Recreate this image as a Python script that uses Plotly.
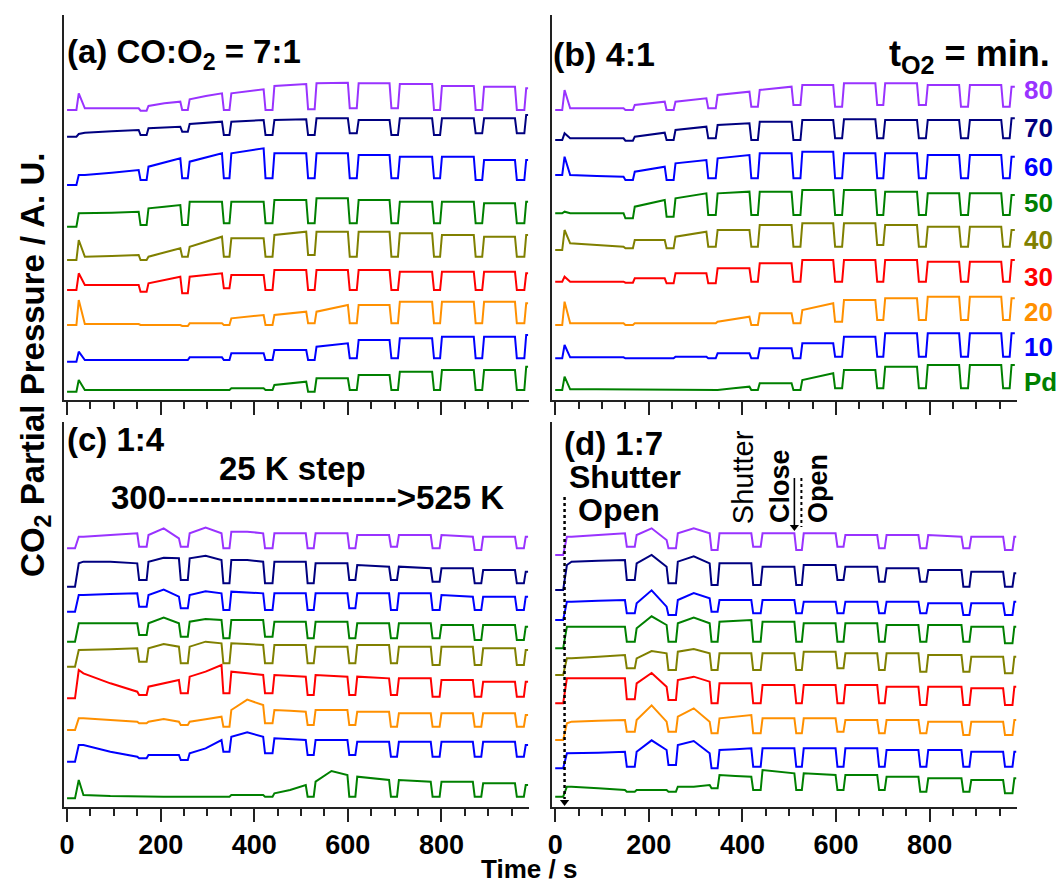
import plotly.graph_objects as go

W, H = 1060, 886

LABELS = ["80", "70", "60", "50", "40", "30", "20", "10", "Pd"]
COLORS = ["#9933ff", "#000080", "#0000ff", "#008000", "#808000",
          "#ff0000", "#ff9000", "#0000ff", "#008000"]
TICK_VALUES = [0, 200, 400, 600, 800]
TICK_TEXT = ["0", "200", "400", "600", "800"]

# ---------------- shutter schedules (s) ----------------
a_close = [153, 242, 331, 420, 511, 600, 689, 780, 869, 957]
a_open = [171, 259, 348, 440, 530, 620, 708, 798, 888, 978]
a_timing = [20, 25, 38, 985]          # shutter open rise, spike peak, settle, end

b_close = [146, 234, 323, 415, 505, 594, 684, 773, 863, 953]
b_open = [167, 254, 344, 434, 525, 614, 702, 793, 883, 972]
b_timing = [15, 20, 32, 982]

c_close = [150, 239, 330, 419, 510, 599, 688, 777, 867, 957]
c_open = [171, 259, 348, 440, 528, 617, 706, 797, 886, 977]
c_timing = [17, 25, 35, 985]

d_close = [149, 238, 330, 419, 511, 599, 688, 776, 868, 957]
d_open = [171, 259, 348, 440, 528, 617, 705, 794, 886, 978]
d_timing = [17, 25, 35, 985]
d_shutter_first_open = 20

# ---------------- panel (a) CO:O2 = 7:1 ----------------
# pre = [level before shutter opens, spike peak]; open = (start, middle, end) of each open period; shut = closed levels
a80_pre = [870, 920]
a80_open = [(875, 875, 875), (882, 890, 895), (902, 912, 920), (920, 926, 932), (942, 945, 948), (950, 951, 952),
            (950, 950, 950), (948, 948, 948), (942, 942, 942), (940, 940, 940), (935, 935, 935)]
a80_shut = [868, 870, 870, 870, 872, 875, 875, 870, 870, 870]

a70_pre = [790, 798]
a70_open = [(802, 806, 810), (815, 818, 820), (828, 832, 835), (835, 838, 840), (840, 841, 842), (845, 845, 845),
            (840, 840, 840), (845, 845, 845), (845, 845, 845), (845, 845, 845), (855, 855, 855)]
a70_shut = [795, 805, 795, 795, 795, 800, 795, 795, 800, 800]

a60_pre = [645, 675]
a60_open = [(675, 682, 690), (700, 712, 725), (715, 728, 740), (740, 748, 755), (740, 740, 740), (740, 740, 740),
            (735, 735, 735), (730, 730, 730), (730, 730, 730), (720, 720, 720), (720, 720, 720)]
a60_shut = [660, 665, 665, 665, 665, 665, 665, 665, 660, 660]

a50_pre = [520, 560]
a50_open = [(560, 562, 565), (575, 580, 585), (595, 595, 595), (595, 595, 595), (600, 600, 600), (605, 605, 605),
            (600, 600, 600), (595, 595, 595), (595, 595, 595), (590, 590, 590), (595, 595, 595)]
a50_shut = [525, 525, 530, 530, 530, 530, 530, 530, 530, 530]

a40_pre = [420, 480]
a40_open = [(430, 432, 435), (430, 442, 455), (460, 475, 490), (485, 485, 485), (495, 500, 505), (505, 505, 505),
            (505, 505, 505), (500, 500, 500), (495, 495, 495), (490, 490, 490), (495, 495, 495)]
a40_shut = [420, 430, 430, 430, 435, 430, 430, 430, 430, 430]

a30_pre = [330, 380]
a30_open = [(345, 345, 345), (350, 360, 370), (370, 375, 380), (375, 375, 375), (390, 390, 390), (390, 390, 390),
            (390, 390, 390), (385, 385, 385), (385, 385, 385), (385, 385, 385), (380, 380, 380)]
a30_shut = [325, 320, 335, 330, 330, 330, 330, 330, 330, 330]

a20_pre = [225, 300]
a20_open = [(228, 228, 228), (225, 225, 225), (230, 230, 230), (245, 250, 255), (255, 260, 265), (265, 275, 285),
            (285, 285, 285), (295, 295, 295), (295, 295, 295), (295, 295, 295), (290, 290, 290)]
a20_shut = [225, 222, 225, 225, 230, 230, 230, 230, 230, 230]

a10_pre = [115, 145]
a10_open = [(120, 120, 120), (120, 120, 120), (128, 128, 128), (140, 140, 140), (150, 150, 150), (160, 165, 170),
            (180, 180, 180), (185, 185, 185), (190, 190, 190), (190, 190, 190), (195, 195, 195)]
a10_shut = [120, 120, 120, 120, 120, 125, 125, 125, 125, 125]

aPd_pre = [25, 60]
aPd_open = [(30, 30, 30), (28, 28, 28), (30, 30, 30), (35, 35, 35), (45, 50, 55), (65, 65, 65),
            (75, 75, 75), (85, 85, 85), (90, 90, 90), (90, 90, 90), (100, 100, 100)]
aPd_shut = [28, 28, 30, 30, 25, 30, 30, 30, 30, 30]

# ---------------- panel (b) 4:1 ----------------
b80_pre = [870, 930]
b80_open = [(875, 875, 875), (885, 890, 895), (895, 900, 905), (915, 920, 925), (930, 935, 940), (945, 945, 945),
            (950, 950, 950), (950, 950, 950), (945, 945, 945), (945, 945, 945), (940, 940, 940)]
b80_shut = [870, 870, 875, 880, 885, 880, 885, 885, 880, 880]

b70_pre = [780, 800]
b70_open = [(785, 785, 785), (790, 796, 802), (810, 815, 820), (825, 828, 830), (835, 835, 835), (840, 840, 840),
            (842, 842, 842), (840, 840, 840), (840, 840, 840), (840, 840, 840), (845, 845, 845)]
b70_shut = [778, 780, 785, 780, 780, 785, 785, 785, 785, 785]

b60_pre = [675, 730]
b60_open = [(675, 672, 670), (685, 692, 700), (710, 715, 720), (725, 730, 735), (740, 740, 740), (745, 745, 745),
            (740, 740, 740), (740, 740, 740), (735, 735, 735), (735, 735, 735), (730, 730, 730)]
b60_shut = [660, 660, 665, 665, 665, 665, 665, 665, 665, 665]

b50_pre = [560, 565]
b50_open = [(560, 560, 560), (580, 590, 600), (605, 612, 620), (620, 622, 625), (625, 625, 625), (630, 630, 630),
            (630, 630, 630), (625, 625, 625), (620, 620, 620), (620, 620, 620), (615, 615, 615)]
b50_shut = [545, 550, 555, 555, 555, 555, 555, 555, 555, 555]

b40_pre = [450, 510]
b40_open = [(470, 465, 460), (480, 480, 480), (490, 498, 505), (510, 510, 510), (525, 525, 525), (530, 530, 530),
            (530, 530, 530), (525, 525, 525), (520, 520, 520), (520, 520, 520), (510, 510, 510)]
b40_shut = [455, 455, 460, 460, 460, 460, 465, 460, 460, 460]

b30_pre = [355, 370]
b30_open = [(355, 355, 355), (365, 365, 365), (380, 380, 380), (395, 395, 395), (410, 410, 410), (420, 420, 420),
            (420, 420, 420), (420, 420, 420), (415, 415, 415), (415, 415, 415), (420, 420, 420)]
b30_shut = [352, 350, 350, 355, 355, 355, 355, 355, 355, 355]

b20_pre = [225, 295]
b20_open = [(230, 230, 230), (230, 230, 230), (230, 230, 230), (235, 242, 250), (260, 260, 260), (270, 280, 290),
            (300, 300, 300), (305, 305, 305), (310, 310, 310), (310, 310, 310), (305, 305, 305)]
b20_shut = [225, 228, 230, 225, 230, 235, 240, 240, 240, 240]

b10_pre = [125, 165]
b10_open = [(128, 128, 128), (125, 125, 125), (130, 130, 130), (140, 140, 140), (155, 155, 155), (170, 170, 170),
            (190, 190, 190), (200, 200, 200), (200, 200, 200), (200, 200, 200), (200, 200, 200)]
b10_shut = [125, 125, 125, 125, 125, 130, 130, 130, 130, 130]

bPd_pre = [30, 70]
bPd_open = [(32, 32, 32), (30, 30, 30), (30, 30, 30), (30, 35, 40), (50, 50, 50), (60, 70, 80),
            (90, 90, 90), (100, 100, 100), (105, 105, 105), (105, 105, 105), (105, 105, 105)]
bPd_shut = [30, 30, 30, 30, 30, 35, 35, 35, 35, 35]

# ---------------- panel (c) 1:4 ----------------
c80_pre = [776, 811]
c80_open = [(811, 816, 821), (816, 836, 806), (821, 838, 821), (826, 826, 821), (821, 821, 821), (821, 821, 821),
            (816, 816, 816), (816, 816, 816), (816, 813, 811), (811, 811, 811), (811, 811, 811)]
c80_shut = [781, 781, 776, 776, 776, 776, 781, 776, 771, 776]

c70_pre = [661, 731]
c70_open = [(736, 736, 731), (736, 748, 746), (746, 754, 741), (741, 741, 736), (736, 736, 736), (731, 731, 731),
            (726, 723, 721), (721, 719, 716), (716, 716, 716), (711, 711, 711), (706, 706, 706)]
c70_shut = [681, 681, 671, 671, 671, 681, 681, 676, 671, 671]

c60_pre = [586, 636]
c60_open = [(636, 639, 641), (636, 652, 631), (636, 647, 641), (646, 643, 641), (641, 641, 641), (641, 641, 641),
            (641, 641, 641), (641, 641, 641), (636, 633, 631), (631, 631, 631), (631, 631, 631)]
c60_shut = [601, 596, 591, 591, 591, 596, 591, 591, 591, 591]

c50_pre = [496, 551]
c50_open = [(551, 551, 551), (551, 568, 551), (556, 564, 561), (561, 561, 561), (556, 556, 556), (556, 556, 556),
            (551, 551, 551), (551, 551, 551), (546, 546, 546), (546, 546, 546), (541, 541, 541)]
c50_shut = [516, 511, 506, 511, 506, 506, 506, 506, 501, 501]

c40_pre = [421, 471]
c40_open = [(471, 473, 476), (476, 489, 481), (481, 496, 491), (491, 489, 486), (486, 486, 486), (481, 481, 481),
            (486, 486, 486), (481, 481, 481), (481, 481, 481), (476, 476, 476), (471, 471, 471)]
c40_shut = [436, 431, 431, 431, 431, 431, 431, 426, 426, 426]

c30_pre = [326, 411]
c30_open = [(401, 371, 346), (361, 371, 381), (391, 406, 426), (406, 401, 396), (396, 393, 391), (396, 393, 391),
            (391, 389, 386), (386, 386, 386), (381, 381, 381), (376, 376, 376), (376, 376, 376)]
c30_shut = [336, 341, 341, 341, 336, 336, 336, 331, 331, 331]

c20_pre = [231, 266]
c20_open = [(266, 261, 256), (256, 264, 256), (256, 263, 271), (291, 322, 306), (291, 289, 286), (291, 291, 291),
            (286, 286, 286), (281, 281, 281), (281, 281, 281), (281, 281, 281), (276, 276, 276)]
c20_shut = [251, 246, 241, 251, 246, 246, 241, 241, 241, 241]

c10_pre = [136, 186]
c10_open = [(186, 166, 151), (156, 156, 156), (161, 176, 201), (211, 224, 211), (206, 203, 201), (201, 201, 201),
            (196, 196, 196), (196, 196, 196), (196, 196, 196), (196, 196, 196), (186, 186, 186)]
c10_shut = [146, 141, 166, 161, 156, 156, 151, 151, 151, 151]

cPd_pre = [26, 81]
cPd_open = [(36, 33, 31), (31, 31, 31), (31, 31, 31), (36, 36, 36), (41, 51, 66), (76, 108, 96),
            (91, 86, 81), (81, 79, 76), (76, 76, 76), (71, 71, 71), (66, 66, 66)]
cPd_shut = [31, 31, 31, 31, 31, 31, 31, 31, 31, 31]

# ---------------- panel (d) 1:7 ----------------
d80_pre = [756, 811]
d80_open = [(811, 816, 821), (816, 836, 801), (821, 836, 821), (821, 821, 821), (821, 821, 821), (821, 821, 821),
            (816, 816, 816), (816, 816, 816), (816, 813, 811), (811, 811, 811), (811, 811, 811)]
d80_shut = [781, 776, 771, 781, 771, 781, 776, 776, 776, 771]

d70_pre = [651, 726]
d70_open = [(736, 739, 741), (731, 756, 721), (736, 752, 731), (731, 731, 731), (721, 721, 721), (726, 726, 726),
            (721, 721, 721), (716, 716, 716), (711, 711, 711), (706, 706, 706), (701, 701, 701)]
d70_shut = [681, 671, 666, 666, 666, 681, 676, 676, 661, 661]

d60_pre = [561, 616]
d60_open = [(616, 619, 621), (611, 650, 601), (621, 642, 626), (621, 621, 621), (621, 621, 621), (616, 616, 616),
            (616, 616, 616), (616, 616, 616), (611, 611, 611), (611, 611, 611), (616, 616, 616)]
d60_shut = [581, 576, 586, 581, 581, 581, 581, 581, 576, 576]

d50_pre = [476, 541]
d50_open = [(541, 541, 541), (536, 572, 546), (551, 568, 551), (556, 559, 561), (556, 556, 556), (551, 551, 551),
            (551, 551, 551), (546, 546, 546), (546, 546, 546), (541, 541, 541), (541, 541, 541)]
d50_shut = [496, 496, 496, 496, 496, 496, 496, 496, 496, 491]

d40_pre = [396, 446]
d40_open = [(446, 451, 456), (446, 468, 461), (466, 474, 461), (461, 461, 461), (461, 461, 461), (466, 466, 466),
            (461, 461, 461), (461, 461, 461), (456, 456, 456), (451, 451, 451), (451, 451, 451)]
d40_shut = [416, 411, 411, 411, 411, 416, 411, 406, 406, 401]

d30_pre = [311, 386]
d30_open = [(386, 386, 386), (371, 402, 361), (381, 391, 376), (371, 371, 371), (366, 366, 366), (366, 366, 366),
            (366, 366, 366), (361, 361, 361), (361, 361, 361), (356, 356, 356), (361, 361, 361)]
d30_shut = [323, 321, 311, 311, 311, 311, 311, 306, 306, 306]

d20_pre = [201, 251]
d20_open = [(256, 259, 261), (261, 305, 256), (271, 296, 256), (266, 271, 276), (266, 266, 266), (266, 266, 266),
            (261, 261, 261), (261, 261, 261), (256, 256, 256), (256, 256, 256), (261, 261, 261)]
d20_shut = [226, 226, 221, 221, 221, 226, 221, 221, 216, 216]

d10_pre = [116, 161]
d10_open = [(161, 163, 166), (166, 200, 171), (186, 198, 161), (171, 173, 176), (176, 176, 176), (176, 176, 176),
            (176, 176, 176), (171, 171, 171), (171, 171, 171), (166, 166, 166), (166, 166, 166)]
d10_shut = [121, 126, 116, 121, 121, 121, 121, 121, 121, 121]

dPd_pre = [31, 61]
dPd_open = [(61, 56, 51), (51, 51, 51), (61, 61, 66), (96, 93, 91), (111, 106, 101), (101, 99, 96),
            (96, 96, 96), (91, 91, 91), (86, 86, 86), (81, 81, 81), (86, 86, 86)]
dPd_shut = [46, 46, 56, 51, 51, 51, 51, 46, 46, 41]


def trace_xy(pre, opn, shut, close, open_, timing):
    rise, peak, settle, end = timing
    xs = [0, rise, peak, settle, (settle + close[0]) / 2, close[0]]
    ys = [pre[0], pre[0], pre[1], opn[0][0], opn[0][1], opn[0][2]]
    for i in range(len(close)):
        xs += [close[i] + 4, open_[i] - 1, open_[i] + 3]
        ys += [shut[i], shut[i], opn[i + 1][0]]
        nxt = close[i + 1] if i + 1 < len(close) else end
        xs += [(open_[i] + 3 + nxt) / 2, nxt]
        ys += [opn[i + 1][1], opn[i + 1][2]]
    return xs, ys


panels = [
    ("x", "y", a_close, a_open, a_timing,
     [(a80_pre, a80_open, a80_shut), (a70_pre, a70_open, a70_shut), (a60_pre, a60_open, a60_shut),
      (a50_pre, a50_open, a50_shut), (a40_pre, a40_open, a40_shut), (a30_pre, a30_open, a30_shut),
      (a20_pre, a20_open, a20_shut), (a10_pre, a10_open, a10_shut), (aPd_pre, aPd_open, aPd_shut)]),
    ("x2", "y2", b_close, b_open, b_timing,
     [(b80_pre, b80_open, b80_shut), (b70_pre, b70_open, b70_shut), (b60_pre, b60_open, b60_shut),
      (b50_pre, b50_open, b50_shut), (b40_pre, b40_open, b40_shut), (b30_pre, b30_open, b30_shut),
      (b20_pre, b20_open, b20_shut), (b10_pre, b10_open, b10_shut), (bPd_pre, bPd_open, bPd_shut)]),
    ("x3", "y3", c_close, c_open, c_timing,
     [(c80_pre, c80_open, c80_shut), (c70_pre, c70_open, c70_shut), (c60_pre, c60_open, c60_shut),
      (c50_pre, c50_open, c50_shut), (c40_pre, c40_open, c40_shut), (c30_pre, c30_open, c30_shut),
      (c20_pre, c20_open, c20_shut), (c10_pre, c10_open, c10_shut), (cPd_pre, cPd_open, cPd_shut)]),
    ("x4", "y4", d_close, d_open, d_timing,
     [(d80_pre, d80_open, d80_shut), (d70_pre, d70_open, d70_shut), (d60_pre, d60_open, d60_shut),
      (d50_pre, d50_open, d50_shut), (d40_pre, d40_open, d40_shut), (d30_pre, d30_open, d30_shut),
      (d20_pre, d20_open, d20_shut), (d10_pre, d10_open, d10_shut), (dPd_pre, dPd_open, dPd_shut)]),
]

fig = go.Figure()
for xa, ya, close, open_, timing, series in panels:
    for k, (pre, opn, shut) in enumerate(series):
        xs, ys = trace_xy(pre, opn, shut, close, open_, timing)
        fig.add_trace(go.Scatter(x=xs, y=ys, mode="lines", xaxis=xa, yaxis=ya,
                                 line=dict(color=COLORS[k], width=2),
                                 name=LABELS[k], showlegend=False, hoverinfo="skip"))


def px_x(p):
    return p / W


def px_y(p):
    return 1 - p / H


def px_v(p, bottom):
    # convert a page pixel row into the panel's A.U. scale (3 units per pixel)
    return 3 * (bottom - p)


FONT = "Liberation Sans, Arial, sans-serif"
X_RANGE = [-7, 987]
Y_RANGE = [0, 1155]
left_dom = [px_x(60), px_x(527)]
right_dom = [px_x(550), px_x(1017)]
top_dom = [px_y(400), px_y(15)]
bot_dom = [px_y(807), px_y(422)]


def xaxis(dom, anchor, labels):
    return dict(domain=dom, anchor=anchor, range=X_RANGE, showgrid=False, zeroline=False,
                showline=True, linecolor="#222", linewidth=2,
                ticks="outside", ticklen=13, tickwidth=2, tickcolor="#222",
                tickvals=TICK_VALUES, ticktext=TICK_TEXT, showticklabels=labels,
                tickfont=dict(family=FONT, size=27, color="black", weight="bold"),
                minor=dict(dtick=50, tick0=0, ticks="outside", ticklen=7, tickwidth=1.5, tickcolor="#222"))


def yaxis(dom, anchor):
    return dict(domain=dom, anchor=anchor, range=Y_RANGE, showgrid=False, zeroline=False,
                showline=True, linecolor="#222", linewidth=2, ticks="", showticklabels=False)


fig.update_layout(
    width=W, height=H, margin=dict(l=0, r=0, t=0, b=0),
    paper_bgcolor="white", plot_bgcolor="white", showlegend=False,
    xaxis=xaxis(left_dom, "y", False), yaxis=yaxis(top_dom, "x"),
    xaxis2=xaxis(right_dom, "y2", False), yaxis2=yaxis(top_dom, "x2"),
    xaxis3=xaxis(left_dom, "y3", True), yaxis3=yaxis(bot_dom, "x3"),
    xaxis4=xaxis(right_dom, "y4", True), yaxis4=yaxis(bot_dom, "x4"),
)


def note(text, x, y, size, xanchor="left", yanchor="middle", angle=0, color="black"):
    fig.add_annotation(text=text, x=px_x(x), y=px_y(y), xref="paper", yref="paper",
                       xanchor=xanchor, yanchor=yanchor, showarrow=False, textangle=angle,
                       font=dict(family=FONT, size=size, color=color))


note("<b>(a) CO:O<sub>2</sub> = 7:1</b>", 61, 54, 33)
note("<b>(b) 4:1</b>", 549, 54, 34)
note("<b>t<sub>O2</sub> = min.</b>", 1052, 56, 36, xanchor="right")
note("<b>(c) 1:4</b>", 61, 440, 33)
note("<b>25 K step</b>", 290, 468, 33, xanchor="center")
note("<b>300" + "-" * 21 + "&gt;525 K</b>", 305, 497, 33, xanchor="center")
note("<b>(d) 1:7</b>", 560, 443, 33)
note("<b>Shutter</b>", 623, 477, 32, xanchor="center")
note("<b>Open</b>", 617, 510, 32, xanchor="center")
note("Shutter", 742, 477, 29, xanchor="center", angle=-90)
note("<b>Close</b>", 779, 486, 27, xanchor="center", angle=-90)
note("<b>Open</b>", 817, 488, 27, xanchor="center", angle=-90)
note("<b>Time / s</b>", 527, 869, 26, xanchor="center")
note("<b>CO<sub>2</sub> Partial Pressure / A. U.</b>", 31, 365, 33, xanchor="center", angle=-90)

label_y = [90, 128, 167, 203, 240, 277, 312, 347, 382]
for k, lab in enumerate(LABELS):
    note("<b>" + lab + "</b>", 1022, label_y[k], 26, color=COLORS[k])

# shutter close arrow (solid) and shutter open marker (dotted) in panel (d)
fig.add_shape(type="line", xref="x4", yref="y4", x0=d_close[4], x1=d_close[4],
              y0=px_v(478, 807), y1=px_v(526, 807), line=dict(color="black", width=1.6))
fig.add_shape(type="line", xref="x4", yref="y4", x0=d_open[4] - 2, x1=d_open[4] - 2,
              y0=px_v(478, 807), y1=px_v(527, 807), line=dict(color="black", width=2, dash="dot"))
# first shutter opening marker
fig.add_shape(type="line", xref="x4", yref="y4", x0=d_shutter_first_open, x1=d_shutter_first_open,
              y0=px_v(497, 807), y1=px_v(799, 807), line=dict(color="black", width=2.5, dash="dot"))
fig.add_trace(go.Scatter(x=[d_close[4], d_shutter_first_open], y=[px_v(527, 807), px_v(802, 807)],
                         xaxis="x4", yaxis="y4", mode="markers", hoverinfo="skip", showlegend=False,
                         marker=dict(symbol="triangle-down", size=8, color="black")))

fig.write_html("out.html")
